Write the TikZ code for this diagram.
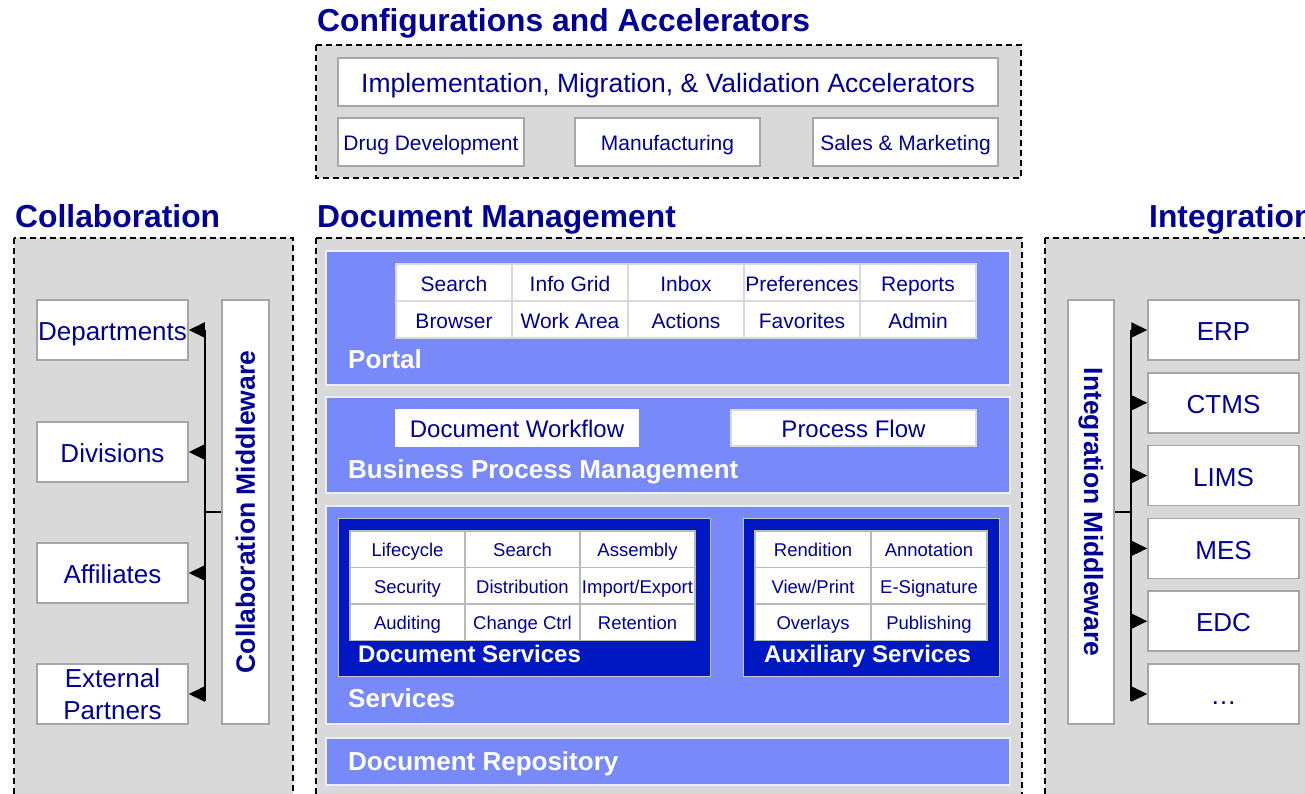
\documentclass[tikz,border=0pt]{standalone}
\usepackage{fontspec}
\setmainfont{Liberation Sans}
\usetikzlibrary{arrows.meta}
\definecolor{navy}{RGB}{0,0,153}
\definecolor{band}{RGB}{120,137,250}
\definecolor{deep}{RGB}{0,24,194}
\definecolor{panel}{RGB}{217,217,217}
\definecolor{rim}{RGB}{166,166,166}
\newcommand\pxsize[1]{\fontsize{#1}{#1}\selectfont}
\begin{document}
\begin{tikzpicture}[x=1pt,y=-1pt,>={Triangle[length=16pt,width=15pt]},
  area/.style={draw,line width=1.5pt,dash pattern=on 6pt off 4pt,fill=panel},
  even/.style={execute at begin node=\rule[-.21em]{0pt}{1.25em}},
  wbox/.style={draw=rim,line width=1.5pt,fill=white,text=navy,inner sep=0pt,align=center},
  cell/.style={draw=gray!30,line width=1.5pt,fill=white,text=navy,inner sep=0pt,even},
  layer/.style={draw=white!85!band,line width=1.5pt,fill=band},
  inner/.style={draw=gray!45,line width=1pt,fill=deep},
  head/.style={anchor=base west,inner sep=0pt,text=navy,font=\bfseries\pxsize{31.8}},
  tag/.style={anchor=base west,inner sep=0pt,text=white,font=\bfseries\pxsize{26}},
  bus/.style={line width=2pt}]
\path[fill=white,use as bounding box](0,0) rectangle (1305,794);
\clip(0,0) rectangle (1305,794);

% configurations and accelerators
\draw[area](316,45) rectangle (1021,178);
\node (cfghead) at (317,32)[head]{Configurations and Accelerators};
\node (impl) at (668,82)[wbox,even,minimum width=660,minimum height=48,font=\pxsize{26.5}]{Implementation, Migration, \& Validation Accelerators};
\node (drug) at (431,142)[wbox,even,minimum width=186,minimum height=48,font=\pxsize{21}]{Drug Development};
\node (manu) at (667.5,142)[wbox,even,minimum width=185,minimum height=48,font=\pxsize{21}]{Manufacturing};
\node (sales) at (905.5,142)[wbox,even,minimum width=185,minimum height=48,font=\pxsize{21}]{Sales \& Marketing};

% collaboration
\draw[area](14,238) rectangle (293,820);
\node (colhead) at (15,228)[head]{Collaboration};
\node (dep) at (112.5,330)[wbox,even,minimum width=151,minimum height=60,font=\pxsize{26}]{Departments};
\node (div) at (112.5,452)[wbox,even,minimum width=151,minimum height=60,font=\pxsize{26}]{Divisions};
\node (aff) at (112.5,573)[wbox,even,minimum width=151,minimum height=60,font=\pxsize{26}]{Affiliates};
\node (ext) at (112.5,694)[wbox,minimum width=151,minimum height=60,font=\pxsize{26}]{External\\[6pt]Partners};
\node (cmw) at (245.5,512)[wbox,rotate=90,minimum width=424,minimum height=47,font=\bfseries\pxsize{26.5}]{Collaboration Middleware};
\coordinate (ctop) at (205,330);
\coordinate (cbot) at (205,701);
\draw[bus](ctop) -- (cbot);
\draw[bus](cmw.north) -- (cmw.north -| ctop);
\foreach \n in {dep,div,aff,ext}
{
    \draw[bus,->](\n.east -| ctop) -- (\n.east);
}

% document management
\draw[area](316,238) rectangle (1022,820);
\node (dmhead) at (317,228)[head]{Document Management};
\draw[layer](326,251) rectangle (1010,385);
\foreach \t [count=\i from 0] in {Search,Info Grid,Inbox,Preferences,Reports}
{
    \node (pa\i) at (454+116*\i,282.5)[cell,minimum width=116,minimum height=37,font=\pxsize{21}]{\t};
}
\foreach \t [count=\i from 0] in {Browser,Work Area,Actions,Favorites,Admin}
{
    \node (pb\i) at (454+116*\i,319.5)[cell,minimum width=116,minimum height=37,font=\pxsize{21}]{\t};
}
\node (portal) at (348,368)[tag]{Portal};
\draw[layer](326,397) rectangle (1010,493);
\node (docwf) at (517,428)[wbox,even,draw=white,minimum width=242,minimum height=36,font=\pxsize{24}]{Document Workflow};
\node (pflow) at (853.5,428)[wbox,even,draw=gray!30,line width=2.5pt,minimum width=245,minimum height=36,font=\pxsize{24}]{Process Flow};
\node (bpm) at (348,478)[tag]{Business Process Management};

\draw[layer](326,506) rectangle (1010,724);
\draw[inner](338,518) rectangle (710,676);
\foreach \a/\b/\c [count=\i from 0] in {Lifecycle/Search/Assembly,Security/Distribution/Import\slash Export,Auditing/Change Ctrl/Retention}
{
    \node (da\i) at (407.5,549.25+36.5*\i)[cell,draw=gray!55,minimum width=115,minimum height=36.5,font=\pxsize{18.5}]{\a};
    \node (db\i) at (522.5,549.25+36.5*\i)[cell,draw=gray!55,minimum width=115,minimum height=36.5,font=\pxsize{18.5}]{\b};
    \node (dc\i) at (637.5,549.25+36.5*\i)[cell,draw=gray!55,minimum width=115,minimum height=36.5,font=\pxsize{18.5}]{\c};
}
\node (docsvc) at (358,662)[tag,font=\bfseries\pxsize{24}]{Document Services};
\draw[inner](743,518) rectangle (999,676);
\foreach \a/\b [count=\i from 0] in {Rendition/Annotation,View\slash Print/E-Signature,Overlays/Publishing}
{
    \node (xa\i) at (813,549.25+36.5*\i)[cell,draw=gray!55,minimum width=116,minimum height=36.5,font=\pxsize{18.5}]{\a};
    \node (xb\i) at (929,549.25+36.5*\i)[cell,draw=gray!55,minimum width=116,minimum height=36.5,font=\pxsize{18.5}]{\b};
}
\node (auxsvc) at (764,662)[tag,font=\bfseries\pxsize{24}]{Auxiliary Services};
\node (svc) at (348,707)[tag]{Services};
\draw[layer](326,738) rectangle (1010,785);
\node (repo) at (348,770)[tag]{Document Repository};

% integration
\draw[area](1045,238) rectangle (1330,820);
\node (inthead) at (1149,228)[head]{Integration};
\node (imw) at (1091,512)[wbox,rotate=-90,minimum width=424,minimum height=46,font=\bfseries\pxsize{26.5}]{Integration Middleware};
\foreach \t [count=\i from 0] in {ERP,CTMS,LIMS,MES,EDC,…}
{
    \node (sys\i) at (1223.5,330+72.8*\i)[wbox,even,minimum width=151,minimum height=60,font=\pxsize{26}]{\t};
}
\coordinate (itop) at (1131,330);
\coordinate (ibot) at (1131,701);
\draw[bus](itop) -- (ibot);
\draw[bus](imw.north) -- (imw.north -| itop);
\foreach \i in {0,...,5}
{
    \draw[bus,->](sys\i.west -| itop) -- (sys\i.west);
}

\end{tikzpicture}
\end{document}
